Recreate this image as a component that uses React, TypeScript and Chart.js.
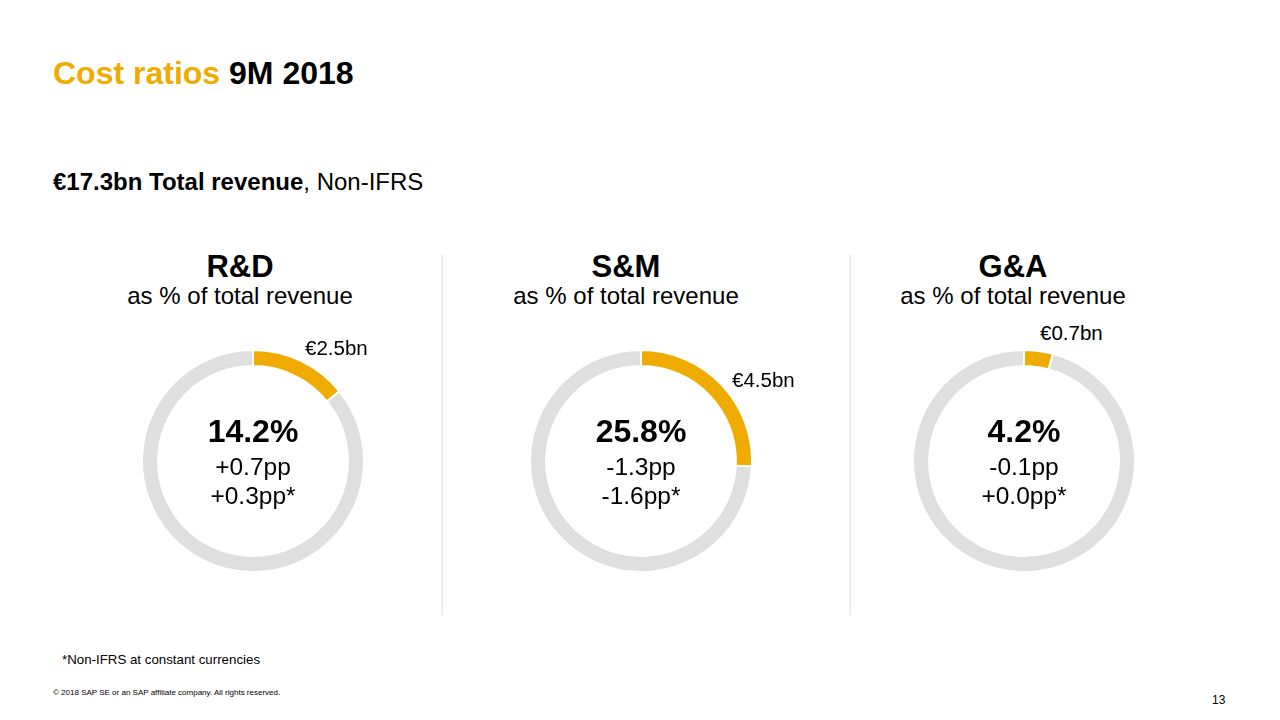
import React, { useEffect, useRef } from "react";
import { Chart, registerables } from "chart.js";

Chart.register(...registerables);

const categories = ["R&D", "S&M", "G&A"];
const ratios = [14.2, 25.8, 4.2];
const amounts = ["€2.5bn", "€4.5bn", "€0.7bn"];
const changes = ["+0.7pp", "-1.3pp", "-0.1pp"];
const changesCC = ["+0.3pp*", "-1.6pp*", "+0.0pp*"];

const ORANGE = "#F0AB00";
const GREY = "#DFDFDF";
const FONT = '"Liberation Sans", Arial, Helvetica, sans-serif';

// layout (not data)
const donutCenters = [253, 641, 1024];
const donutCY = 461;
const headerCenters = [240, 626, 1013];
const labelOffsets = [
  [52, -106],
  [91, -74],
  [16, -121],
];

type TProps = {
  x: number;
  baseline: number;
  size: number;
  bold?: boolean;
  color?: string;
  align?: "left" | "center";
  children: React.ReactNode;
};

function T({ x, baseline, size, bold, color, align = "left", children }: TProps) {
  return (
    <div
      style={{
        position: "absolute",
        left: x,
        top: baseline - 0.8465 * size,
        fontSize: size,
        lineHeight: `${size}px`,
        fontWeight: bold ? 700 : 400,
        color: color || "#000",
        whiteSpace: "nowrap",
        transform: align === "center" ? "translateX(-50%)" : undefined,
        fontFamily: FONT,
      }}
    >
      {children}
    </div>
  );
}

function Donut({ value, cx, cy }: { value: number; cx: number; cy: number }) {
  const ref = useRef<HTMLCanvasElement>(null);
  useEffect(() => {
    if (!ref.current) return;
    const chart = new Chart(ref.current, {
      type: "doughnut",
      data: {
        labels: ["cost", "rest"],
        datasets: [
          {
            data: [value, 100 - value],
            backgroundColor: [ORANGE, GREY],
            borderColor: "#ffffff",
            borderWidth: 2,
            hoverOffset: 0,
          },
        ],
      },
      options: {
        animation: false,
        responsive: true,
        maintainAspectRatio: false,
        cutout: "85.5%",
        layout: { padding: 0 },
        plugins: { legend: { display: false }, tooltip: { enabled: false } },
        events: [],
      },
    });
    return () => chart.destroy();
  }, [value]);
  const size = 224;
  return (
    <div
      style={{
        position: "absolute",
        left: cx - size / 2,
        top: cy - size / 2,
        width: size,
        height: size,
      }}
    >
      <canvas ref={ref} />
    </div>
  );
}

export default function App() {
  return (
    <div
      style={{
        position: "fixed",
        left: 0,
        top: 0,
        width: 1280,
        height: 720,
        background: "#fff",
        overflow: "hidden",
        fontFamily: FONT,
      }}
    >
      <T x={53} baseline={84} size={32} bold>
        <span style={{ color: ORANGE }}>Cost ratios</span> 9M 2018
      </T>
      <T x={53} baseline={190} size={24}>
        <b>€17.3bn Total revenue</b>, Non-IFRS
      </T>

      {[441, 849].map((x) => (
        <div
          key={x}
          style={{
            position: "absolute",
            left: x,
            top: 255,
            width: 2,
            height: 360,
            background: "#ececec",
          }}
        />
      ))}

      {categories.map((c, i) => (
        <React.Fragment key={c}>
          <T x={headerCenters[i]} baseline={277} size={31} bold align="center">
            {c}
          </T>
          <T x={headerCenters[i]} baseline={304} size={24} align="center">
            as % of total revenue
          </T>
          <Donut value={ratios[i]} cx={donutCenters[i]} cy={donutCY} />
          <T
            x={donutCenters[i] + labelOffsets[i][0]}
            baseline={donutCY + labelOffsets[i][1]}
            size={20.5}
          >
            {amounts[i]}
          </T>
          <T x={donutCenters[i]} baseline={442} size={32} bold align="center">
            {ratios[i].toFixed(1)}%
          </T>
          <T x={donutCenters[i]} baseline={476} size={24.5} align="center">
            {changes[i]}
          </T>
          <T x={donutCenters[i]} baseline={505} size={24.5} align="center">
            {changesCC[i]}
          </T>
        </React.Fragment>
      ))}

      <T x={62} baseline={664} size={13.3}>
        *Non-IFRS at constant currencies
      </T>
      <T x={53} baseline={696} size={8}>
        © 2018 SAP SE or an SAP affiliate company. All rights reserved.
      </T>
      <T x={1212} baseline={704} size={12}>
        13
      </T>
    </div>
  );
}
